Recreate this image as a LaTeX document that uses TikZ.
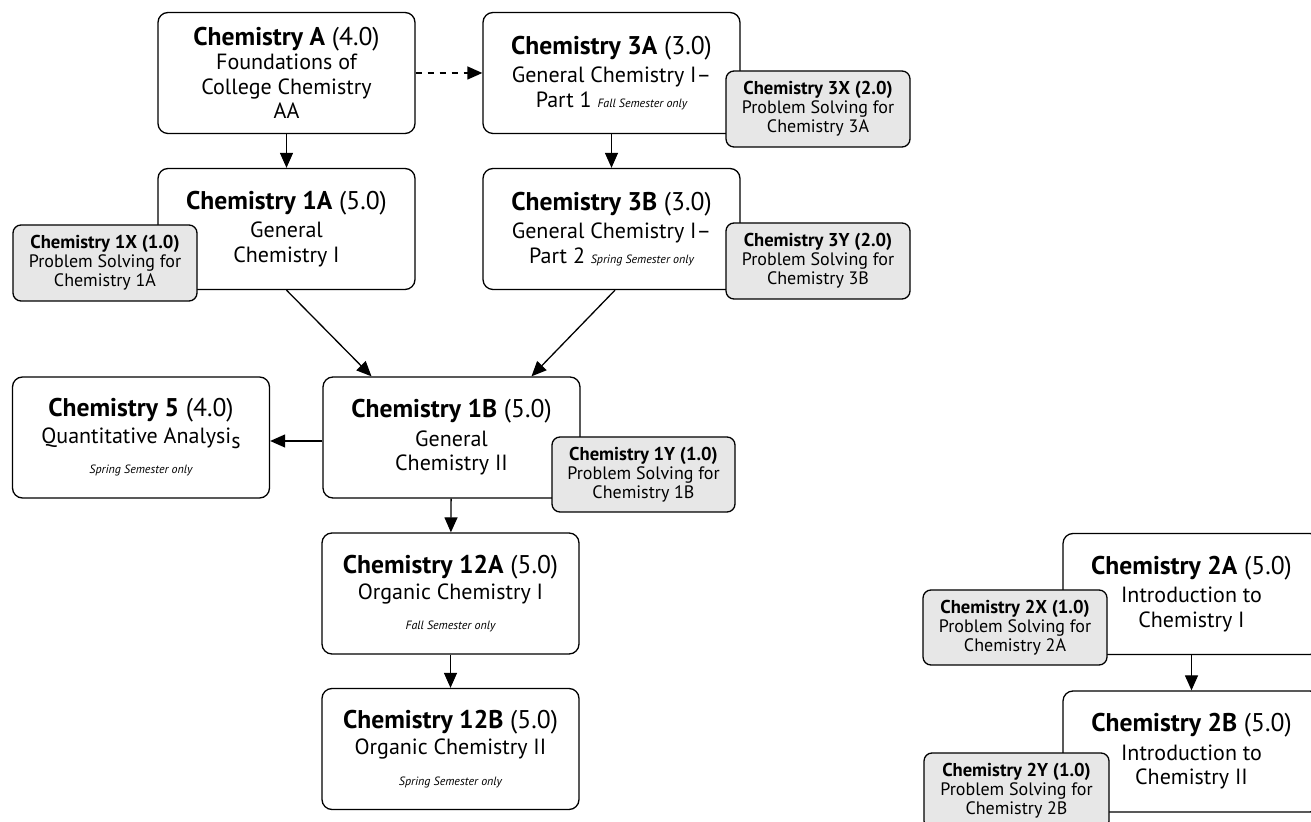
\documentclass[tikz,border=0pt]{standalone}
\usepackage{fontspec}
\setmainfont{PT Sans}
\usetikzlibrary{arrows.meta}
\definecolor{ps_grey}{RGB}{231, 231, 231}
\newcommand{\ctitle}[2]{{\fontsize{12.8}{15}\selectfont\textbf{#1} (#2)}}
\newcommand{\ptitle}[1]{{\fontsize{9.3}{10.5}\selectfont\textbf{#1}}}
\newcommand{\semnote}[1]{{\fontsize{6}{7}\selectfont\itshape #1}}
\tikzstyle{cn}=[rectangle,rounded corners=5pt,fill=white,draw=black,
  line width=0.65pt,align=center,inner sep=2pt,
  minimum width=128.5pt,minimum height=60.5pt,
  font=\fontsize{11}{12.2}\selectfont]
\tikzstyle{pn}=[rectangle,rounded corners=4pt,fill=ps_grey,draw=black,
  line width=0.65pt,align=center,inner sep=1pt,
  minimum width=92pt,minimum height=38pt,
  font=\fontsize{9}{9.6}\selectfont]
\tikzstyle{pre}=[-{Triangle[length=7.5pt,width=6.5pt]},line width=0.65pt]

\begin{document}
\begin{tikzpicture}[x=0.5pt,y=-0.5pt]
        \clip (0,0) rectangle (1311,822);
        \fill[white] (0,0) rectangle (1311,822);
        % left column
        \node[style=cn] (chA) at (286.5,73)
          {\ctitle{Chemistry A}{4.0}\\Foundations of\\College Chemistry\\AA};
        \node[style=cn] (ch1A) at (286.5,229)
          {\ctitle{Chemistry 1A}{5.0}\\[2pt]General\\Chemistry I};
        \node[style=pn] (ch1X) at (105,263)
          {\ptitle{Chemistry 1X (1.0)}\\Problem Solving for\\Chemistry 1A};
        % right column
        \node[style=cn] (ch3A) at (611.5,73)
          {\ctitle{Chemistry 3A}{3.0}\\[2pt]General Chemistry I--\\Part 1 \semnote{Fall Semester only}};
        \node[style=pn] (ch3X) at (818,109)
          {\ptitle{Chemistry 3X (2.0)}\\Problem Solving for\\Chemistry 3A};
        \node[style=cn] (ch3B) at (611.5,229)
          {\ctitle{Chemistry 3B}{3.0}\\[2pt]General Chemistry I--\\Part 2 \semnote{Spring Semester only}};
        \node[style=pn] (ch3Y) at (818,261)
          {\ptitle{Chemistry 3Y (2.0)}\\Problem Solving for\\Chemistry 3B};
        % middle
        \node[style=cn] (ch5) at (141,437.5)
          {\ctitle{Chemistry 5}{4.0}\\[1pt]Quantitative Analysi\raisebox{-2.5pt}{s}\\[3pt]\semnote{Spring Semester only}};
        \node[style=cn] (ch1B) at (451.5,437.5)
          {\ctitle{Chemistry 1B}{5.0}\\[2pt]General\\Chemistry II};
        \node[style=pn,minimum width=91.5pt,minimum height=37.5pt] (ch1Y) at (643.5,474.5)
          {\ptitle{Chemistry 1Y (1.0)}\\Problem Solving for\\Chemistry 1B};
        \node[style=cn] (ch12A) at (450.5,593.5)
          {\ctitle{Chemistry 12A}{5.0}\\[1pt]Organic Chemistry I\\[3pt]\semnote{Fall Semester only}};
        \node[style=cn] (ch12B) at (450.5,749)
          {\ctitle{Chemistry 12B}{5.0}\\[1pt]Organic Chemistry II\\[3pt]\semnote{Spring Semester only}};
        % far right
        \node[style=cn] (ch2A) at (1191.5,594)
          {\ctitle{Chemistry 2A}{5.0}\\[2pt]Introduction to\\Chemistry I};
        \node[style=pn,minimum height=37.5pt] (ch2X) at (1015,627.5)
          {\ptitle{Chemistry 2X (1.0)}\\Problem Solving for\\Chemistry 2A};
        \node[style=cn] (ch2B) at (1191.5,751.5)
          {\ctitle{Chemistry 2B}{5.0}\\[2pt]Introduction to\\Chemistry II};
        \node[style=pn,minimum width=92.5pt] (ch2Y) at (1016.5,791)
          {\ptitle{Chemistry 2Y (1.0)}\\Problem Solving for\\Chemistry 2B};
        \draw[style=pre,dashed] (chA) to (ch3A);
        \draw[style=pre] (chA) to (ch1A);
        \draw[style=pre] (ch3A) to (ch3B);
        \draw[style=pre] (ch1A.south) to ([xshift=-40pt]ch1B.north);
        \draw[style=pre] ([xshift=1.75pt]ch3B.south) to ([xshift=40pt]ch1B.north);
        \draw[style=pre] ([yshift=-1.75pt]ch1B.west) to ([yshift=-1.75pt]ch5.east);
        \draw[style=pre] (ch1B) to (ch12A);
        \draw[style=pre] (ch12A) to (ch12B);
        \draw[style=pre] (ch2A) to (ch2B);
    \end{tikzpicture}
\end{document}
